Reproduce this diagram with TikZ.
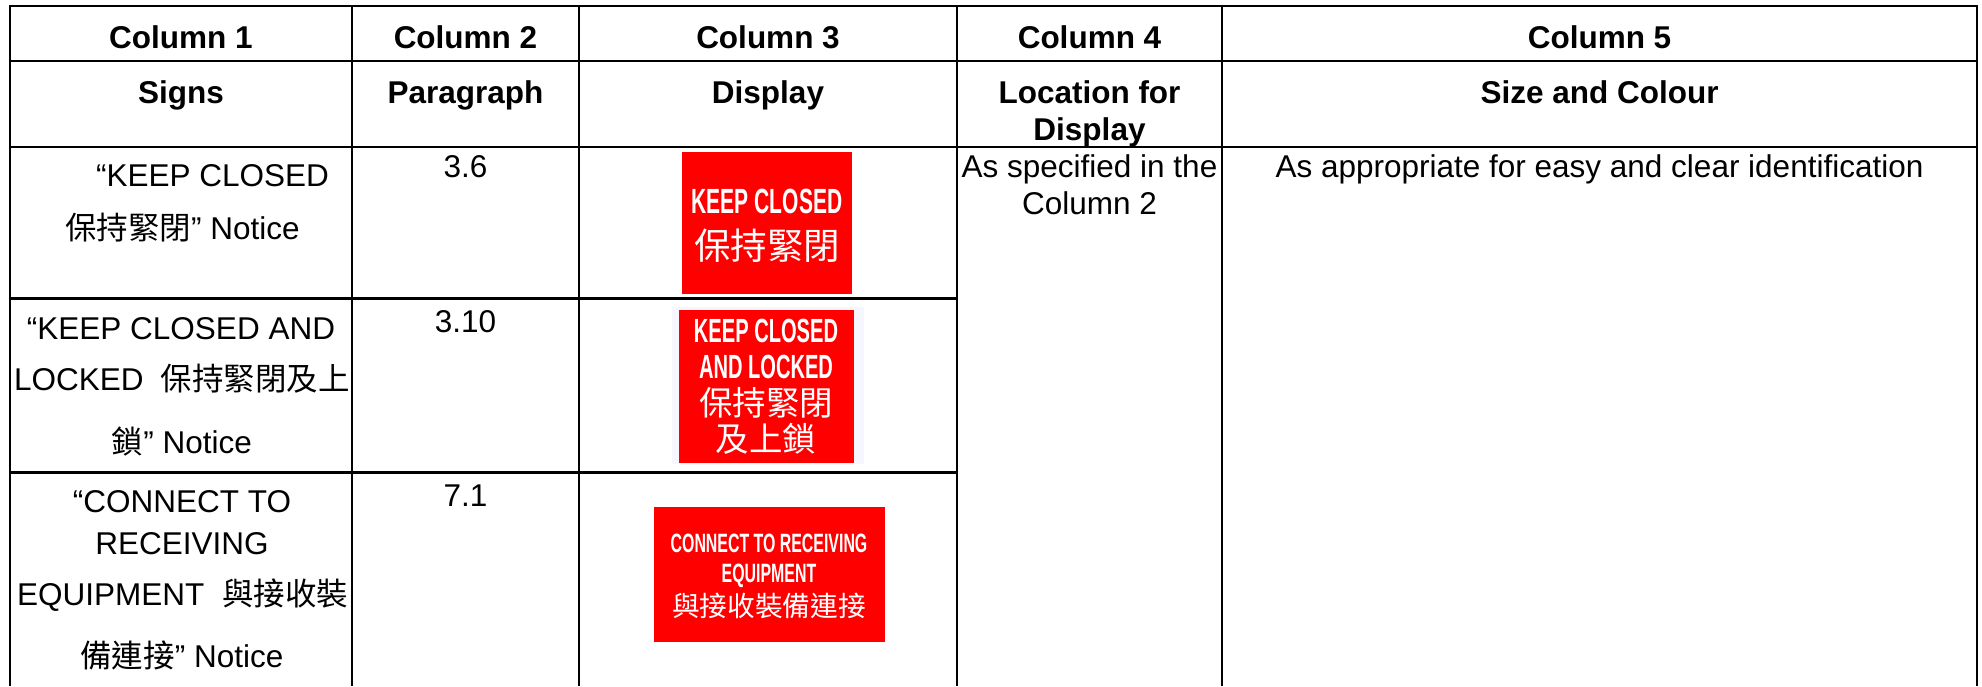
\documentclass[tikz,border=0pt]{standalone}
\usepackage{fontspec}
\setmainfont{Liberation Sans}
\newfontfamily\cjk{Noto Sans CJK TC}
\newfontfamily\signfont[FakeStretch=0.6]{Liberation Sans}
\newcommand{\zh}[1]{{\cjk #1}}
\definecolor{signred}{RGB}{255,0,0}
\definecolor{signhalo}{RGB}{246,246,255}
\begin{document}
\begin{tikzpicture}[x=1pt,y=-1pt,
  grid/.style={line width=2.7pt, black},
  txt/.style={inner sep=0pt, anchor=base, font=\fontsize{31.5}{38}\selectfont},
  txtl/.style={txt, anchor=base west},
  hdr/.style={inner sep=0pt, anchor=base, font=\fontsize{31.5}{38}\selectfont\bfseries},
  signtxt/.style={inner sep=0pt, anchor=base, text=white},
]
\useasboundingbox (0,0) rectangle (1982,686);
% ---- signs (drawn first) ----
\fill[signred] (682,152) rectangle (852,294);
\node[signtxt, font=\signfont\bfseries\fontsize{35}{40}\selectfont] (s1a) at (767,213) {KEEP CLOSED};
\node[signtxt, font=\cjk\fontsize{36.5}{40}\selectfont] (s1b) at (767,259) {保持緊閉};

\fill[signhalo] (672,307) rectangle (864,464);
\fill[signred] (679,310) rectangle (854,463);
\node[signtxt, font=\signfont\bfseries\fontsize{33.5}{38}\selectfont] (s2a) at (766,342) {KEEP CLOSED};
\node[signtxt, font=\signfont\bfseries\fontsize{33.5}{38}\selectfont] (s2b) at (766,378) {AND LOCKED};
\node[signtxt, font=\cjk\fontsize{33.5}{38}\selectfont] (s2c) at (766,415) {保持緊閉};
\node[signtxt, font=\cjk\fontsize{33.5}{38}\selectfont] (s2d) at (766,451) {及上鎖};

\fill[signred] (654,507) rectangle (884.5,642);
\node[signtxt, font=\signfont\bfseries\fontsize{26.5}{30}\selectfont] (s3a) at (769,552) {CONNECT TO RECEIVING};
\node[signtxt, font=\signfont\bfseries\fontsize{26.5}{30}\selectfont] (s3b) at (769,582) {EQUIPMENT};
\node[signtxt, font=\cjk\fontsize{27.7}{30}\selectfont] (s3c) at (769,616) {與接收裝備連接};

% ---- grid ----
\draw[grid, line join=miter] (10,686) -- (10,6) -- (1977,6) -- (1977,686);
\draw[grid] (10,61) -- (1977,61);
\draw[grid] (10,147) -- (1977,147);
\draw[grid] (10,298.5) -- (957,298.5);
\draw[grid] (10,472.7) -- (957,472.7);
\foreach \x in {352,579,957,1222} \draw[grid] (\x,6) -- (\x,686);

% ---- header ----
\node[hdr] (h11) at (181,48) {Column 1};
\node[hdr] (h12) at (465.5,48) {Column 2};
\node[hdr] (h13) at (768,48) {Column 3};
\node[hdr] (h14) at (1089.5,48) {Column 4};
\node[hdr] (h15) at (1599.5,48) {Column 5};
\node[hdr] (h21) at (181,103) {Signs};
\node[hdr] (h22) at (465.5,103) {Paragraph};
\node[hdr] (h23) at (768,103) {Display};
\node[hdr] (h24a) at (1089.5,103) {Location for};
\node[hdr] (h24b) at (1089.5,140) {Display};
\node[hdr] (h25) at (1599.5,103) {Size and Colour};

% ---- row 1 ----
\node[txtl] (r1a) at (96,186) {“KEEP CLOSED};
\node[txtl] (r1b) at (65,239) {\zh{保持緊閉}” Notice};
\node[txt] (r1p) at (465.5,177) {3.6};
\node[txt] (r1l1) at (1089.5,177) {As specified in the};
\node[txt] (r1l2) at (1089.5,214.5) {Column 2};
\node[txt] (r1s) at (1599.5,177) {As appropriate for easy and clear identification};

% ---- row 2 ----
\node[txt] (r2a) at (181,339) {“KEEP CLOSED AND};
\node[txtl] (r2b) at (14,390.5) {LOCKED\hspace{17pt}\zh{保持緊閉及上}};
\node[txt] (r2c) at (182,453) {\zh{鎖}” Notice};
\node[txt] (r2p) at (465.5,332.5) {3.10};

% ---- row 3 ----
\node[txt] (r3a) at (182,512) {“CONNECT TO};
\node[txt] (r3b) at (182,554) {RECEIVING};
\node[txtl] (r3c) at (17,605) {EQUIPMENT\hspace{18pt}\zh{與接收裝}};
\node[txt] (r3d) at (182,667.5) {\zh{備連接}” Notice};
\node[txt] (r3p) at (465.5,506) {7.1};
\end{tikzpicture}
\end{document}
